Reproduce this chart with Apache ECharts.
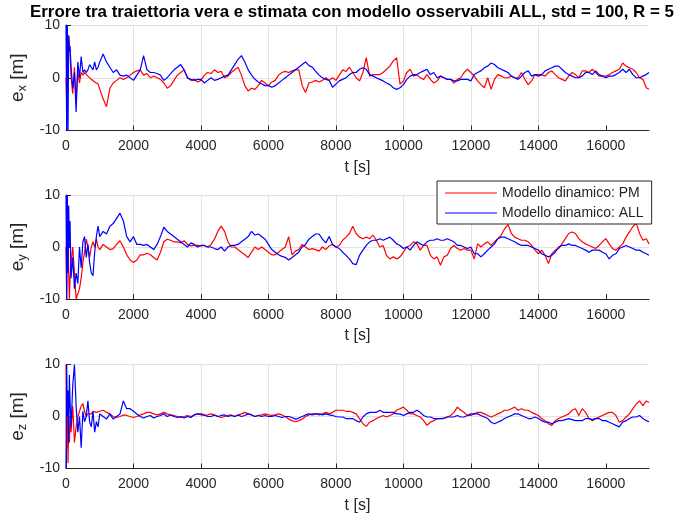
<!DOCTYPE html>
<html>
<head>
<meta charset="utf-8">
<script src="https://cdn.jsdelivr.net/npm/echarts@6/dist/echarts.min.js"></script>
<style>html,body{margin:0;padding:0;background:#fff}#c{width:679px;height:519px}</style>
</head>
<body>
<div id="c"></div>
<script>
const titleText = 'Errore tra traiettoria vera e stimata con modello osservabili ALL, std = 100, R = 5';
const seriesNames = ['Modello dinamico: PM', 'Modello dinamico: ALL'];
const xTicks = [0, 2000, 4000, 6000, 8000, 10000, 12000, 14000, 16000];
const yTicks = [-10, 0, 10];
const yLabels = [['e', 'x'], ['e', 'y'], ['e', 'z']];

const t = [0,20,40,60,80,100,120,150,200,250,300,350,400,450,500,550,600,650,700,750,800,850,900,950,1000,
1100,1200,1300,1400,1500,1600,1700,1800,1900,2000,
2100,2200,2300,2400,2500,2600,2700,2800,2900,3000,
3100,3200,3300,3400,3500,3600,3700,3800,3900,4000,
4100,4200,4300,4400,4500,4600,4700,4800,4900,5000,
5100,5200,5300,5400,5500,5600,5700,5800,5900,6000,
6100,6200,6300,6400,6500,6600,6700,6800,6900,7000,
7100,7200,7300,7400,7500,7600,7700,7800,7900,8000,
8100,8200,8300,8400,8500,8600,8700,8800,8900,9000,
9100,9200,9300,9400,9500,9600,9700,9800,9900,10000,
10100,10200,10300,10400,10500,10600,10700,10800,10900,11000,
11100,11200,11300,11400,11500,11600,11700,11800,11900,12000,
12100,12200,12300,12400,12500,12600,12700,12800,12900,13000,
13100,13200,13300,13400,13500,13600,13700,13800,13900,14000,
14100,14200,14300,14400,14500,14600,14700,14800,14900,15000,
15100,15200,15300,15400,15500,15600,15700,15800,15900,16000,
16100,16200,16300,16400,16500,16600,16700,16800,16900,17000,
17100,17200,17280];

const exPM = [0,-5,2,6,8,6,5,0,-3,2,-4,1,-1,1,0.5,1,0.8,0.3,0,-0.3,-0.5,-0.8,-1,-1.2,-1.5,
-4,-5.5,-2,-1,-0.5,0,-0.3,0,0.5,1,
1.3,1.5,0.5,0.8,0,0.3,0,-0.3,-1,-2,
-1.5,-0.5,0.5,1,1.5,0,-0.5,-0.3,-0.8,-0.5,
0.5,1,0.8,1.5,1,1.2,0,0.3,1,1.5,
2,0.5,-1.5,-2.5,-2,-2.2,-1.5,-0.5,-1,-1.5,
-0.8,-0.5,0.5,1,1.2,1,1.3,1.5,1.5,-1.5,
-2.8,-1,-0.8,-0.5,-0.8,-0.5,0,-0.5,0,-0.5,
0.5,1.5,1.2,2,1,0,-0.6,1,3.8,0.3,
0.6,0.6,0.6,1,1.6,2.2,3.2,3.8,-1.2,-0.6,
1,1.6,0.3,0.6,0,-0.3,0.6,-0.3,-1,-0.6,
0.3,0,-0.3,-0.3,-1,-0.3,0,1,1.6,1,
0.3,-0.6,-1.3,-1.9,0,-2.2,-0.3,0.6,0.3,0,
0,0.3,0,0,1,-0.3,-1.3,-0.6,0.6,0.6,
0.6,0.3,1,1.3,0.6,0,-0.3,-0.6,0.3,1,
0.6,0,1.3,1.3,1,1.6,1,0.3,0.3,0.3,
0.6,1,1.3,1.6,2.8,2.2,1.9,1.6,1,0,
-0.3,-1.9,-2.2];

const exALL = [10,-10,10,-10,8,5,6,2,-2,1,-6.5,3,0,4,1,1.5,1,1.5,2.5,2,1.5,3,1.5,2,3,
4.5,3,2,1,1.5,0.5,0.3,0.5,0,-0.5,
0.5,1.5,4.2,1.5,1,1,0.8,0.5,-0.5,0,
0.8,1.5,2,2.5,1.5,0,-0.3,-0.5,-0.3,-0.3,
-1,-0.5,0,-0.5,-0.3,0,0.3,0.5,1.5,2.5,
3.5,4.2,3,1.5,0.5,-0.3,-0.8,-1.2,-1.5,-1.5,
-1.8,-1.5,-1,-0.5,0,0.5,1,1.5,2,2.5,
3,2.3,2,1.2,0.5,0,-0.3,-0.5,-1.8,-1.2,
-0.6,-0.3,0,0.6,1,1,1.6,1.9,1.6,0.6,
0.3,0,-0.3,-0.6,-1,-1.3,-1.9,-2.2,-1.9,-1.3,
-0.3,0.3,0.6,0.6,1,1.3,1.6,0.6,1,0,
0.3,0,-0.3,-0.3,-0.6,-0.6,-0.3,-0.3,-0.3,-0.6,
0.6,1,1.3,1.9,2.2,2.8,2.5,1.9,1.6,1.3,
1,0.3,0,-0.3,0.3,1,1.3,0.3,0.6,0.3,
0.6,1.3,1.6,1.9,2.2,2.2,1.6,1,0.6,0.3,
0,0,0.3,1,1,0.6,1.3,0.6,0.3,0,
0.3,0.3,0.6,1,1.6,1,1.6,0.6,0,0,
0.3,0.6,1];

const eyPM = [0,-10,8,3,-5,-10,-6,-3,0,-5,-10,-10,-8,-6,-3,-1,1.5,0,-2,0,1,0,1.5,0,-0.5,
0.5,0,-0.5,-0.3,0.5,1.2,0,-1.5,-2.5,-3,
-2.5,-1.5,-1.5,-1.2,-1.5,-2,-2.5,-1,1,1.5,
1.3,1,1,0.8,1.2,0.5,0.2,0.3,0.3,0.2,
0.3,0,0.5,1.5,3,4,3,1,0,0,
-0.5,-1,-1.5,-2,-1,0,-0.5,0,-0.5,-1,
-1.5,-1.5,-1,-0.5,0,2,-1.5,-0.8,-0.5,0.5,
0,-0.5,-0.3,-0.5,-0.8,0,-0.5,0.2,0.5,0,
0.3,1.3,1.9,2.6,4,2.6,1.9,1.6,1.9,1.6,
2.3,1.3,0,0.3,-1.6,-2.3,-1.9,-2.3,-1.9,-1,
0,0.3,1,0.6,-0.6,0.3,0.3,-1.6,-2.3,-1.9,
-3.5,-1.9,-1.6,-0.3,0.3,-0.3,-0.6,-0.3,-0.6,-0.6,
-2.3,0.6,0,0.6,1,0.3,1,1.6,2.3,3.5,
4.3,2.6,1.9,1.6,1.3,1.3,1,0.3,-0.6,-1.3,
-0.6,-1.6,-3.2,-1.3,-0.6,-0.3,0.6,1.6,2.6,2.9,
2.6,1.6,1,0.6,0.3,0,-0.3,0.3,1,1.6,
0.6,-0.3,-0.6,0,0.6,1.9,2.9,3.9,4.6,2.6,
1.3,1.6,0.6];

const eyALL = [10,-10,10,-5,8,0,5,-6,-2,-8,-5,-7,0,-4,1,2,-2,0.5,-3,-5,-5.5,-1,2,4,2,
3,2.5,4,4.5,5.5,6.5,5,2,1,2,
0.5,0.5,0.3,0.5,0,-0.5,0.5,2,3.8,3,
2.5,2,1.5,1,0.5,0,0.8,0.5,0,0.3,
0.3,0,0,-0.3,-0.5,0,-0.8,0,0.3,0.3,
0.5,1,1.5,2,3,2.3,2.5,2,1.5,0.5,
-0.5,-1,-1.5,-1.8,-2,-2.5,-2,-1.5,-1,0,
0.5,1.5,2,2.5,2.5,1.5,0.8,2,0.5,0,
-0.3,-1,-1.6,-2.3,-3.2,-3.4,-1.6,-0.6,0.3,1,
1.3,1.3,1.6,1.3,1.6,1.9,1.3,0.6,0.3,-0.3,
0,-0.6,0.3,1,0.6,0.3,1,1.3,1.3,1.6,
1.3,1.3,1.6,1.3,1,0.3,0.3,0,-0.3,0,
-1.3,-1.3,-1.9,-1.3,-0.6,0,0.6,1.6,1.9,1.9,
1.6,1.3,1,0.6,0.3,0.3,0.3,0,-0.3,-0.6,
-1.3,-1.6,-1.9,-1.6,-1,0,0.3,0.3,0.6,0.3,
0.3,0,-0.3,-0.6,-1,-0.6,-0.6,-0.6,-1,-1.3,
-2.3,-1.6,-1.3,-0.3,0,0.3,0,-0.3,-0.6,-0.6,
-1,-1.3,-1.6];

const ezPM = [10,-6,5,-9,-2,-5,0,-3,2,-5,-2,0,1,2,2.5,1,0,0.5,0.3,0.5,1,0.8,0.8,0.8,1,
1.2,0.8,0.5,0,-0.2,0,0.3,0.2,0,-0.2,
0,0.3,0.5,0.8,0.8,0.5,0.3,0.5,0.8,0.5,
0.3,0.2,0,-0.2,0,0.2,0,0.3,0.5,0.3,
0.2,0.3,0.5,0.3,0,-0.2,0,0.2,0.3,0,
0.3,0.5,0.8,0.5,0.3,0,0.2,0.3,0.5,0.3,
0.2,0.3,0.5,0.3,0,-0.5,-0.8,-1,-0.8,-0.5,
0,0.3,0.5,0.5,0.3,0.5,0.8,0.5,0.8,1.2,
1.2,1.2,1,1,0.8,0.5,-0.4,-1.4,-1.9,-1.1,
-0.8,-0.4,-0.1,0.2,-0.1,0.2,0.5,1.2,1.5,1.8,
1.2,0.5,0.5,0.2,-0.1,-0.8,-1.7,-1.1,-0.8,-0.4,
-0.4,-0.4,-0.1,0.2,0.8,1.8,1.2,0.8,0.2,0.2,
0.5,0.8,0.8,0.5,0.2,-0.1,0.2,0.5,0.8,1.2,
1.2,1.5,1.8,1.2,1.5,1.2,1.2,0.8,0.5,0.2,
-0.4,-0.8,-1.4,-1.7,-0.8,-0.4,-0.1,0.2,0.5,1.2,
1.5,0.2,1.5,0.8,-0.4,-0.8,-0.4,-0.1,0.2,0.5,
0.8,0.8,0.2,-1.1,-0.8,-0.1,0.5,1.5,2.4,3,
2.1,3,2.7];

const ezALL = [-10,10,0,5,-5,8,3,-2,6,10,2,-3,0,-6,1,-1,0,3,-1,-2,1,-3,-1,-2,0.5,
0,-0.5,0.5,-0.5,0,0.5,3,1.5,1.5,1,
0.5,0,-0.3,0,0.2,-0.3,0,0.2,0.5,0,
0.3,0,-0.2,0,-0.3,0,-0.2,0.3,0.5,0.5,
0.3,0,0,0.3,0,0.2,0.3,0,0.2,0,
0.3,0,0.2,0.5,0.3,0,0.2,0,0.2,0,
0,0.2,0,-0.2,0,0,-0.2,-0.5,-0.3,0,
0.3,0.5,0.3,0.5,0.5,0.3,0.5,0.3,0.2,0,
-0.1,-0.1,-0.4,-0.4,-0.4,-0.8,-1.1,-0.1,0.5,0.8,
0.8,0.8,1.2,0.8,0.8,0.8,0.8,0.5,0.5,0.2,
0.5,0.8,0.8,1.2,0.8,0.2,-0.1,-0.1,-0.4,-0.4,
-0.4,-0.3,-0.1,-0.1,-0.1,0.2,-0.1,-0.1,0.2,0.5,
0.5,0.5,0.2,-0.1,-0.4,-1.1,-1.4,-1.1,-0.8,-0.4,
-0.1,0.2,0.5,0.5,0.2,-0.1,-0.4,-0.4,-0.1,-0.4,
-0.8,-1.1,-1.1,-1.4,-1.1,-0.8,-0.8,-0.6,-0.4,-0.6,
-0.8,-0.8,-0.8,-0.4,-0.4,-0.6,-0.4,-0.4,-0.8,-0.8,
-1.1,-1.4,-1.7,-2,-1.1,-0.8,-0.4,-0.1,-0.1,0.2,
-0.4,-0.8,-1];

const FONT = '"Liberation Sans", Arial, Helvetica, sans-serif';
const AX = '#262626';
const GRIDC = '#e2e2e2';
const seriesData = [[exPM, exALL], [eyPM, eyALL], [ezPM, ezALL]];
const colors = ['#ff0000', '#0000ff'];

function pairs(v) { return t.map((x, i) => [x, v[i]]); }

const grids = [
  { left: 66, top: 25, width: 583, height: 105.5 },
  { left: 66, top: 195, width: 583, height: 104 },
  { left: 66, top: 364.5, width: 583, height: 104 }
];

const xAxes = grids.map((g, i) => ({
  type: 'value', gridIndex: i, min: 0, max: 17280,
  axisLine: { show: true, onZero: false, lineStyle: { color: AX, width: 1 } },
  axisTick: { show: true, inside: true, length: 5, customValues: xTicks, lineStyle: { color: AX } },
  axisLabel: { customValues: xTicks, formatter: v => String(v), color: AX, fontSize: 14, fontFamily: FONT, margin: 9 },
  splitLine: { show: true, showMinLine: false, showMaxLine: false, lineStyle: { color: GRIDC, width: 1 } },
  interval: 2000,
  name: 't [s]', nameLocation: 'middle', nameGap: 29,
  nameTextStyle: { color: AX, fontSize: 16, fontFamily: FONT }
}));

const yAxes = grids.map((g, i) => ({
  type: 'value', gridIndex: i, min: -10, max: 10, interval: 10,
  axisLine: { show: true, onZero: false, lineStyle: { color: AX, width: 1 } },
  axisTick: { show: true, inside: true, length: 5, lineStyle: { color: AX } },
  axisLabel: { customValues: yTicks, color: AX, fontSize: 14, fontFamily: FONT, margin: 6 },
  splitLine: { show: true, lineStyle: { color: GRIDC, width: 1 } },
  name: '{b|' + yLabels[i][0] + '}{s|' + yLabels[i][1] + '}{b| [m]}',
  nameLocation: 'middle', nameGap: 37, nameRotate: 90,
  nameTextStyle: {
    color: AX, fontFamily: FONT,
    rich: {
      b: { fontSize: 19, color: AX, fontFamily: FONT, lineHeight: 22, verticalAlign: 'middle' },
      s: { fontSize: 13, color: AX, fontFamily: FONT, lineHeight: 22, verticalAlign: 'bottom', padding: [7, 0, 0, 0] }
    }
  }
}));

const series = [];
seriesData.forEach((pair, gi) => {
  pair.forEach((vals, k) => {
    series.push({
      type: 'line', name: seriesNames[k], xAxisIndex: gi, yAxisIndex: gi,
      data: pairs(vals), showSymbol: false, symbol: 'none', animation: false,
      clip: true, lineStyle: { color: colors[k], width: 1.2 }, itemStyle: { color: colors[k] }
    });
  });
});

const chart = echarts.init(document.getElementById('c'), null, { renderer: 'canvas' });
chart.setOption({
  backgroundColor: '#ffffff',
  animation: false,
  title: {
    text: titleText, left: 30, top: 4, padding: 0,
    textStyle: { fontSize: 16.9, fontWeight: 'bold', color: '#000', fontFamily: FONT }
  },
  legend: {
    data: seriesNames, orient: 'vertical', left: 437, top: 181,
    backgroundColor: '#fff', borderColor: AX, borderWidth: 1, borderRadius: 0,
    padding: [5, 8, 4, 8], itemWidth: 52, itemHeight: 14, itemGap: 6,
    textStyle: { fontSize: 14, color: AX, fontFamily: FONT },
    icon: 'path://M0,0 L52,0 L52,1 L0,1 Z'
  },
  grid: grids,
  xAxis: xAxes,
  yAxis: yAxes,
  series: series
});
</script>
</body>
</html>
